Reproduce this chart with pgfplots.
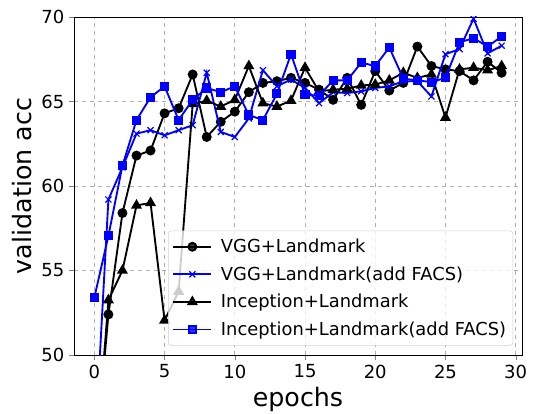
\documentclass[border=0pt]{standalone}
\usepackage{fontspec}
\setmainfont{DejaVu Sans}
\usepackage{pgfplots}
\pgfplotsset{compat=1.18}

\definecolor{mplblue}{RGB}{0,0,255}
\definecolor{gridgray}{RGB}{176,176,176}

\begin{document}
\begin{tikzpicture}
\begin{axis}[
    scale only axis,
    width=336pt, height=253.5pt,
    xmin=-1.45, xmax=30.45,
    ymin=50, ymax=70,
    xtick={0,5,...,30},
    ytick={50,55,...,70},
    tick align=outside,
    xtick pos=bottom,
    ytick pos=left,
    major tick length=3.7pt,
    grid=major,
    grid style={gridgray, dashed, line width=0.6pt},
    axis line style={line width=0.6pt},
    ticklabel style={font=\fontsize{13.5}{15}\selectfont},
    /pgf/number format/assume math mode=true,
    xlabel={epochs},
    ylabel={validation acc},
    label style={font=\fontsize{19}{22}\selectfont},
    clip marker paths=true,
    every axis plot/.append style={line width=1.4pt},
    legend cell align=left,
    legend style={
        at={(0.98,0.028)}, anchor=south east,
        font=\fontsize{13.4}{15}\selectfont,
        draw=gray!35, rounded corners=2pt,
        fill=white, fill opacity=0.8, text opacity=1,
        row sep=5pt, column sep=4.5pt,
        inner ysep=4pt,
    },
    legend image code/.code={
        \draw[mark repeat=2,mark phase=2] plot coordinates {(0cm,0cm) (0.5cm,0cm) (1.0cm,0cm)};
    },
]
% VGG+Landmark
\addplot[black, mark=*, mark size=3pt] coordinates {
(0,43) (1,52.4) (2,58.4) (3,61.8) (4,62.1) (5,64.3) (6,64.6) (7,66.6) (8,62.9) (9,63.8)
(10,64.4) (11,65.55) (12,66.1) (13,66.2) (14,66.4) (15,66.1) (16,65.7) (17,65.1) (18,66.4) (19,64.8)
(20,66.8) (21,65.65) (22,66.1) (23,68.25) (24,67.1) (25,66.9) (26,66.8) (27,66.25) (28,67.35) (29,66.7)
};
% VGG+Landmark(add FACS)
\addplot[mplblue, mark=x, mark size=3.2pt, mark options={line width=0.9pt}] coordinates {
(0,44) (1,59.2) (2,61.1) (3,63.1) (4,63.3) (5,63.0) (6,63.3) (7,63.6) (8,66.7) (9,63.2)
(10,62.9) (11,64.0) (12,66.85) (13,65.9) (14,66.3) (15,65.8) (16,64.9) (17,65.55) (18,65.5) (19,65.6)
(20,65.8) (21,65.9) (22,66.2) (23,66.2) (24,65.3) (25,67.8) (26,68.1) (27,69.9) (28,67.85) (29,68.3)
};
% Inception+Landmark
\addplot[black, mark=triangle*, mark size=3.4pt] coordinates {
(0,42.5) (1,53.25) (2,55.0) (3,58.85) (4,59.0) (5,52.05) (6,53.75) (7,64.85) (8,65.05) (9,64.7)
(10,65.1) (11,67.1) (12,64.9) (13,64.7) (14,65.05) (15,67.0) (16,65.6) (17,65.7) (18,65.75) (19,65.95)
(20,66.0) (21,66.25) (22,66.7) (23,66.4) (24,66.6) (25,64.05) (26,66.9) (27,67.0) (28,66.85) (29,67.1)
};
% Inception+Landmark(add FACS)
\addplot[mplblue, mark=square*, mark size=2.7pt] coordinates {
(0,53.4) (1,57.05) (2,61.2) (3,63.9) (4,65.25) (5,65.9) (6,63.9) (7,65.1) (8,65.8) (9,65.55)
(10,65.9) (11,64.2) (12,63.9) (13,65.45) (14,67.8) (15,65.4) (16,65.35) (17,66.25) (18,66.25) (19,67.3)
(20,67.1) (21,68.2) (22,66.35) (23,66.25) (24,66.15) (25,66.4) (26,68.5) (27,68.75) (28,68.25) (29,68.85)
};
\legend{VGG+Landmark, VGG+Landmark(add FACS), Inception+Landmark, Inception+Landmark(add FACS)}
\end{axis}
\pgfresetboundingbox
\path ([shift={(-55.5pt,-43.5pt)}]current axis.south west) rectangle ([shift={(8.25pt,12.75pt)}]current axis.north east);
\end{tikzpicture}
\end{document}
